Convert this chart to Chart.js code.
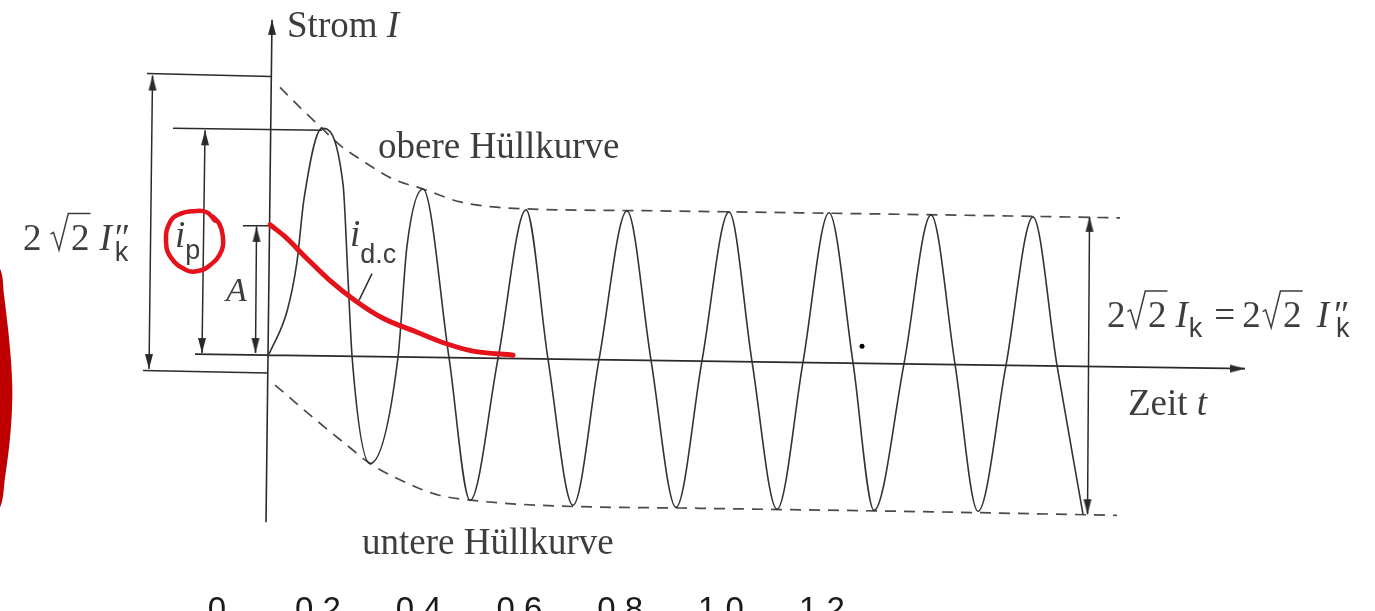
<!DOCTYPE html>
<html lang="de">
<head>
<meta charset="utf-8">
<title>Stoßkurzschlussstrom</title>
<script src="https://cdn.jsdelivr.net/npm/chart.js@4.4.1/dist/chart.umd.min.js"></script>
<style>
  html, body { margin: 0; padding: 0; background: #fff; }
  #wrap { position: relative; width: 1375px; height: 611px; overflow: hidden; }
  #chart { display: block; }
</style>
</head>
<body>
<div id="wrap"><canvas id="chart" width="1375" height="634"></canvas></div>
<script>
// Zeitachse: Beschriftung unten
const tickValues = [0, 0.2, 0.4, 0.6, 0.8, 1.0, 1.2];
const tickLabels = ['0', '0.2', '0.4', '0.6', '0.8', '1.0', '1.2'];

// Kurzschlussstrom i(t), Strom bezogen auf den Scheitelwert √2·Ik
const currentT = [0.1032, 0.1389, 0.1587, 0.1726, 0.2083, 0.25, 0.2599, 0.2679, 0.3036, 0.3591,
  0.377, 0.4087, 0.4603, 0.502, 0.5575, 0.6131, 0.6567, 0.7063, 0.7579, 0.8135,
  0.8611, 0.9107, 0.9623, 1.0159, 1.0615, 1.1111, 1.1627, 1.2143, 1.2619, 1.3036,
  1.3631, 1.4167, 1.4643, 1.5099, 1.5655, 1.619, 1.6667, 1.7183];
const currentI = [0.04, 0.327, 0.66, 1.08, 1.553, 1.18, 0.547, 0.027, -0.693, 0.02,
  0.767, 1.147, 0.017, -0.94, 0.01, 1.007, 0.007, -0.973, 0.003, 1.0,
  0, -0.987, -0.003, 0.993, -0.01, -1.0, -0.013, 0.987, -0.017, -1.007,
  -0.023, 0.973, -0.027, -1.013, -0.033, 0.96, -0.037, -1.033];

// obere / untere Hüllkurve
const upperT = [0.125, 0.1647, 0.2083, 0.244, 0.2837, 0.3492, 0.4087, 0.4821, 0.5476, 0.6151, 0.879, 1.1567, 1.5536, 1.7917];
const upperI = [1.827, 1.693, 1.553, 1.44, 1.347, 1.213, 1.147, 1.06, 1.027, 1.013, 1.0, 0.987, 0.967, 0.953];
const lowerT = [0.1151, 0.1984, 0.2639, 0.3036, 0.3968, 0.4425, 0.5079, 0.6409, 0.9583, 1.3552, 1.7857];
const lowerI = [-0.167, -0.407, -0.587, -0.693, -0.853, -0.907, -0.94, -0.973, -0.993, -1.013, -1.04];

// Gleichstromglied i_d.c (rot nachgezeichnet)
const dcT = [0.1052, 0.1349, 0.1746, 0.2242, 0.2738, 0.3294, 0.3968, 0.4524, 0.5079, 0.5873];
const dcI = [0.907, 0.827, 0.693, 0.533, 0.4, 0.28, 0.187, 0.113, 0.06, 0.033];

// roter Kreis um i_p
const ringT = [-0.004, -0.0204, -0.047, -0.0734, -0.0933, -0.1012, -0.0899, -0.0601, -0.0403, -0.0139, 0.0093, 0.0113, 0.0046, -0.0079];
const ringI = [0.935, 0.991, 0.998, 0.98, 0.925, 0.791, 0.68, 0.602, 0.595, 0.635, 0.735, 0.835, 0.913, 0.96];

// roter Rand links
const blobT = [-0.47, -0.4306, -0.4226, -0.4147, -0.4087, -0.4062, -0.4073, -0.412, -0.4206, -0.4306, -0.47];
const blobI = [0.75, 0.613, 0.435, 0.213, -0.007, -0.187, -0.365, -0.565, -0.787, -0.987, -1.12];

// Achsen (null trennt die Linien)
const axisT = [-0.0437, 2.0397, null, 0.1091, 0.0972];
const axisI = [0.04, -0.057, null, 2.28, -1.087];

// Maßlinien und Hinweislinie
const dimT = [-0.1389, 0.1071, null, -0.1468, 0.1012, null, -0.128, -0.1349, null,
  -0.0873, 0.2083, null, -0.0238, -0.0298, null, 0.0516, 0.1032, null,
  0.0784, 0.0764, null, 1.7312, 1.7272, null, 0.3075, 0.2817];
const dimI = [1.92, 1.9, null, -0.07, -0.087, null, 1.907, -0.06, null,
  1.553, 1.54, null, 1.54, 0.047, null, 0.9, 0.9, null,
  0.893, 0.047, null, 0.96, -1.033, null, 0.58, 0.4];

// Pfeilspitzen: Lage und Richtung (Grad)
const arrowT = [0.1091, 2.0397, -0.128, -0.1349, -0.0238, -0.0298, 0.0784, 0.0764, 1.7312, 1.7272];
const arrowI = [2.28, -0.057, 1.907, -0.06, 1.54, 0.047, 0.893, 0.047, 0.96, -1.033];
const arrowRot = [0, 90, 0, 180, 0, 180, 0, 180, 0, 180];

const dotT = [1.2798];
const dotI = [0.093];

const pts = (ts, is) => ts.map((t, k) => ({ x: t, y: is[k] }));

const ink = '#333';
const textColor = '#3d3d3d';
const R = '37px "Liberation Serif", "Times New Roman", serif';
const RI = 'italic 37px "Liberation Serif", "Times New Roman", serif';
const AI = 'italic 34px "Liberation Serif", "Times New Roman", serif';
const S = '27px "Liberation Sans", Arial, sans-serif';

// Beschriftungen, Anker in Achseneinheiten (linke Grundlinie)
const texts = [
  { t: 0.1389, i: 2.163, runs: [{ s: 'Strom ', f: R }, { s: 'I', f: RI }] },
  { t: 0.3194, i: 1.353, runs: [{ s: 'obere Hüllkurve', f: R }] },
  { t: 0.2877, i: -1.3, runs: [{ s: 'untere Hüllkurve', f: R }] },
  { t: 1.8075, i: -0.367, runs: [{ s: 'Zeit ', f: R }, { s: 't', f: RI }] },
  { t: -0.3849, i: 0.74, runs: [{ s: '2', f: R }, { gap: 9 }, { sqrt: '2', size: 37 }, { gap: 9 },
    { s: 'I', f: RI }, { s: '″', f: R, stay: true, dx: 3 }, { s: 'k', f: S, dx: 3, dy: 11 }] },
  { t: 1.7659, i: 0.22, runs: [{ s: '2', f: R }, { gap: 2 }, { sqrt: '2', size: 37 }, { gap: 8 },
    { s: 'I', f: RI }, { s: 'k', f: S, dx: 1, dy: 10 }, { gap: 12 }, { s: '=', f: R }, { gap: 7 },
    { s: '2', f: R }, { gap: 2 }, { sqrt: '2', size: 37 }, { gap: 14 }, { s: 'I', f: RI },
    { s: '″', f: R, stay: true, dx: 5 }, { s: 'k', f: S, dx: 7, dy: 10 }] },
  { t: -0.0833, i: 0.76, runs: [{ s: 'i', f: RI }, { s: 'p', f: S, dy: 12 }] },
  { t: 0.0179, i: 0.393, runs: [{ s: 'A', f: AI }] },
  { t: 0.2639, i: 0.766, runs: [{ s: 'i', f: RI }, { s: 'd.c', f: S, dy: 17 }] }
];

function drawRun(ctx, r, px, py) {
  if (r.gap) return px + r.gap;
  if (r.sqrt) {
    const em = r.size;
    ctx.font = R;
    const w = ctx.measureText(r.sqrt).width;
    const x0 = px + 0.55 * em;
    ctx.lineWidth = 1.5;
    ctx.beginPath();
    ctx.moveTo(px, py - 0.42 * em);
    ctx.lineTo(px + 0.08 * em, py - 0.47 * em);
    ctx.lineTo(px + 0.23 * em, py + 0.01 * em);
    ctx.lineTo(px + 0.48 * em, py - 0.98 * em);
    ctx.lineTo(x0 + w + 0.03 * em, py - 0.98 * em);
    ctx.stroke();
    ctx.fillText(r.sqrt, x0, py);
    return x0 + w + 0.03 * em;
  }
  ctx.font = r.f;
  const dx = r.dx || 0;
  ctx.fillText(r.s, px + dx, py + (r.dy || 0));
  return r.stay ? px : px + dx + ctx.measureText(r.s).width;
}

const labelPlugin = {
  id: 'figureLabels',
  afterDatasetsDraw(chart) {
    const { ctx } = chart;
    const xs = chart.scales.x, ys = chart.scales.y;
    ctx.save();
    ctx.fillStyle = textColor;
    ctx.strokeStyle = textColor;
    ctx.textAlign = 'left';
    ctx.textBaseline = 'alphabetic';
    texts.forEach(lbl => {
      let px = xs.getPixelForValue(lbl.t);
      const py = ys.getPixelForValue(lbl.i);
      lbl.runs.forEach(r => { px = drawRun(ctx, r, px, py); });
    });
    ctx.restore();
  }
};

// Pfeilspitze als Bild, Spitze liegt in der Bildmitte
function makeArrow() {
  const c = document.createElement('canvas');
  c.width = 40;
  c.height = 40;
  const g = c.getContext('2d');
  g.fillStyle = '#2a2a2a';
  g.beginPath();
  g.moveTo(20, 20);
  g.lineTo(24, 35);
  g.lineTo(16, 35);
  g.closePath();
  g.fill();
  return c;
}
const arrowImg = makeArrow();

const lineBase = { showLine: true, pointRadius: 0, fill: false };
const smooth = { cubicInterpolationMode: 'monotone' };

new Chart(document.getElementById('chart'), {
  type: 'scatter',
  data: {
    datasets: [
      { ...lineBase, ...smooth, data: pts(dcT, dcI), borderColor: '#e3121b', borderWidth: 5, borderCapStyle: 'round' },
      { ...lineBase, data: pts(ringT, ringI), borderColor: '#e3121b', borderWidth: 4.5, tension: 0.45, borderCapStyle: 'round' },
      { ...lineBase, data: pts(blobT, blobI), fill: 'shape', backgroundColor: '#c00000', borderWidth: 0, tension: 0.3 },
      { ...lineBase, ...smooth, data: pts(currentT, currentI), borderColor: ink, borderWidth: 1.6 },
      { ...lineBase, ...smooth, data: pts(upperT, upperI), borderColor: '#4a4a4a', borderWidth: 1.7, borderDash: [11, 8] },
      { ...lineBase, ...smooth, data: pts(lowerT, lowerI), borderColor: '#4a4a4a', borderWidth: 1.7, borderDash: [11, 8] },
      { ...lineBase, data: pts(axisT, axisI), borderColor: '#2a2a2a', borderWidth: 1.6 },
      { ...lineBase, data: pts(dimT, dimI), borderColor: '#2a2a2a', borderWidth: 1.5 },
      {
        data: pts(arrowT, arrowI), showLine: false, pointStyle: arrowImg, pointRadius: 10,
        pointRotation: ctx => arrowRot[ctx.dataIndex]
      },
      { data: pts(dotT, dotI), showLine: false, pointRadius: 2.5, pointBackgroundColor: '#000', pointBorderWidth: 0 }
    ]
  },
  options: {
    responsive: false,
    animation: false,
    devicePixelRatio: 1,
    events: [],
    layout: { padding: 0, autoPadding: false },
    plugins: { legend: { display: false }, tooltip: { enabled: false } },
    scales: {
      x: {
        type: 'linear',
        position: 'bottom',
        min: -0.4306,
        max: 2.2976,
        grid: { display: false, drawTicks: false },
        border: { display: false },
        afterBuildTicks: scale => { scale.ticks = tickValues.map(v => ({ value: v })); },
        ticks: {
          autoSkip: false,
          maxRotation: 0,
          padding: 3,
          color: '#1a1a1a',
          font: { family: '"Liberation Sans", Arial, sans-serif', size: 33 },
          callback: (v, idx) => tickLabels[idx]
        }
      },
      y: { type: 'linear', display: false, min: -1.5297, max: 2.413 }
    }
  },
  plugins: [labelPlugin]
});
</script>
</body>
</html>
